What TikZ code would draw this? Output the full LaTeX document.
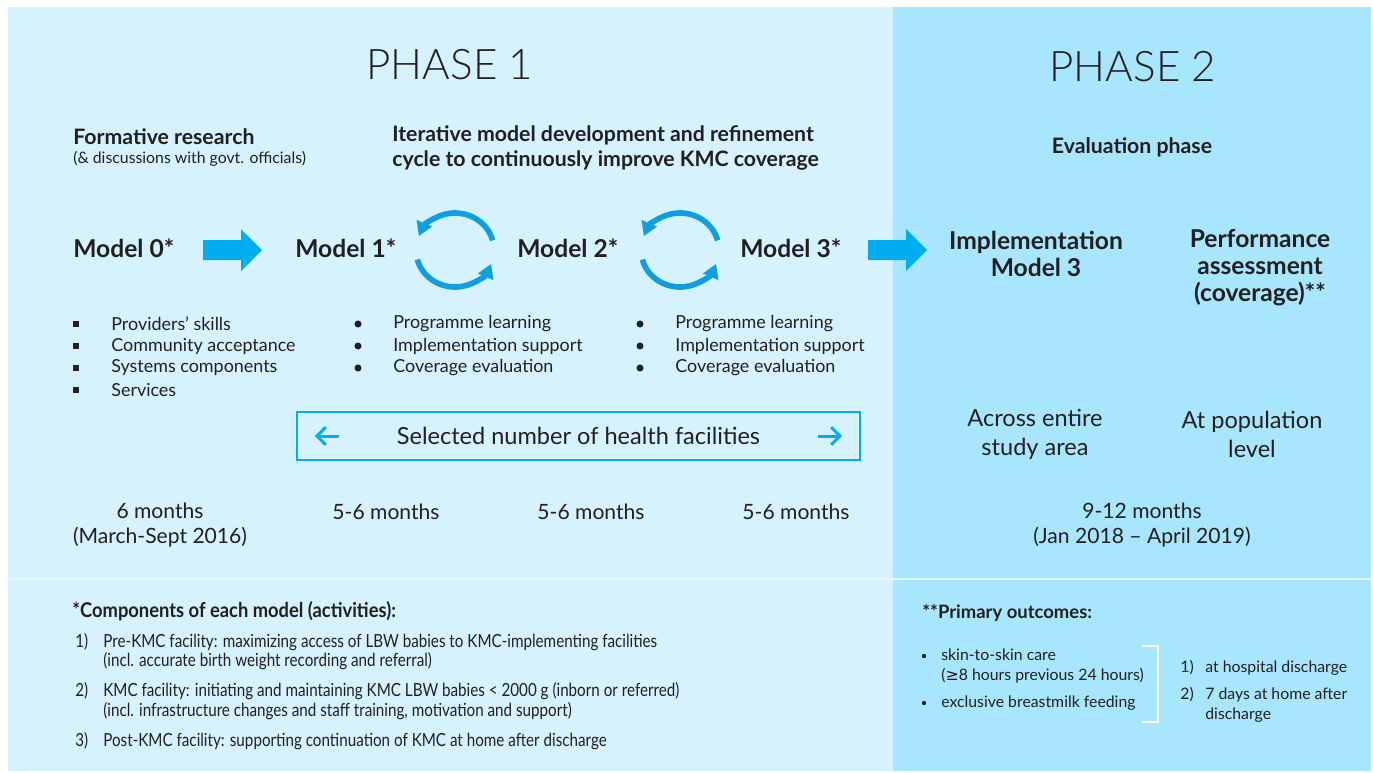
\documentclass[tikz,border=0pt]{standalone}
\usepackage{fontspec}
\setmainfont{Lato}
\newfontfamily\lightfont{Lato Light}
\newfontfamily\condfont{Lato}[FakeStretch=0.84]
\newfontfamily\condbold{Lato Bold}[FakeStretch=0.9]
\newfontfamily\symfont{DejaVu Sans}
\usepackage{tikz}
\usetikzlibrary{calc}
\usetikzlibrary{positioning}
\usetikzlibrary{arrows.meta}
\definecolor{panelA}{RGB}{213,242,254}
\definecolor{panelB}{RGB}{168,230,253}
\definecolor{arrowblue}{RGB}{0,174,239}
\definecolor{cycblue}{RGB}{16,158,222}
\definecolor{ink}{RGB}{35,31,32}
\definecolor{line}{RGB}{232,248,254}

\begin{document}
\begin{tikzpicture}[x=0.02cm,y=-0.02cm,>=latex,
  every node/.style={text=ink,inner sep=0pt},
  phase/.style={font=\lightfont\fontsize{24}{30}\selectfont},
  head/.style={font=\bfseries\fontsize{12.1}{14.7}\selectfont,align=left,anchor=west},
  sub/.style={font=\fontsize{9}{11}\selectfont,anchor=west},
  model/.style={font=\bfseries\fontsize{14}{15.3}\selectfont,align=center},
  item/.style={font=\fontsize{10.2}{12.5}\selectfont,anchor=west},
  big/.style={font=\fontsize{13.4}{16.4}\selectfont,align=center},
  months/.style={font=\fontsize{12}{14.7}\selectfont,align=center},
  blist/.style={font=\condfont\fontsize{10.3}{11.3}\selectfont,align=left,anchor=west},
  olist/.style={font=\fontsize{9}{11.3}\selectfont,align=left,anchor=west},
  sqdot/.style={fill=ink,minimum size=3.6pt,inner sep=0pt},
  rdot/.style={circle,fill=ink,minimum size=4pt,inner sep=0pt},
  cyc/.style={cycblue,line width=3.2pt,-{Triangle[length=8pt,width=9pt]}},
  thin/.style={arrowblue,line width=1.7pt,-{Straight Barb[length=5pt,width=10pt]}}]

\useasboundingbox (0,0) rectangle (1373,772);

% panels
\fill[panelA] (8,7) rectangle (893,771);
\fill[panelB] (893,7) rectangle (1371,771);
\draw[line,line width=1.6pt] (8,579) -- (1371,579);

% titles
\node[phase] (ph1) at (450,65) {PHASE 1};
\node[phase] (ph2) at (1133,67) {PHASE 2};

\node[head] (form) at (73,137) {Formative research};
\node[sub] (disc) at (73,159) {(\& discussions with govt. officials)};
\node[head] (iter) at (392,148) {Iterative model development and refinement\\cycle to continuously improve KMC coverage};
\node[head,anchor=center] (eval) at (1132,147) {Evaluation phase};

% models
\node[model,anchor=west] (m0) at (73,248) {Model 0*};
\node[model,anchor=west] (m1) at (295,248) {Model 1*};
\node[model,anchor=west] (m2) at (517,248) {Model 2*};
\node[model,anchor=west] (m3) at (740,248) {Model 3*};
\node[model] (impl) at (1036,254) {Implementation\\Model 3};
\node[model] (perf) at (1260,268) {Performance\\assessment\\(coverage)**};

% block arrows
\fill[arrowblue] (203,240) -- (241,240) -- (241,229) -- (262,250) -- (241,271) -- (241,260) -- (203,260) -- cycle;
\fill[arrowblue,shift={(665,0)}] (203,240) -- (241,240) -- (241,229) -- (262,250) -- (241,271) -- (241,260) -- (203,260) -- cycle;

% cycles
\coordinate (c1) at (455,250);
\coordinate (c2) at (680,250);
\foreach \c in {c1,c2}{
  \draw[cyc] ($(\c)+(-15:39 and 37)$) arc[start angle=-15,end angle=-158,x radius=39,y radius=37];
  \draw[cyc] ($(\c)+(-195:39 and 37)$) arc[start angle=-195,end angle=-338,x radius=39,y radius=37];
}

% bullet lists
\foreach \t [count=\i] in {Providers’ skills,Community acceptance,Systems components,Services}{
  \node[sqdot] (q\i) at (76,302+22*\i) {};
  \node[item] (p\i) at (111,302+22*\i) {\t};
}
\foreach \t [count=\i] in {Programme learning,Implementation support,Coverage evaluation}{
  \node[rdot] (a\i) at (358,302+22*\i) {};
  \node[item] (b\i) at (393,302+22*\i) {\t};
  \node[rdot] (d\i) at (640,302+22*\i) {};
  \node[item] (e\i) at (675,302+22*\i) {\t};
}

% facilities box
\node[draw=arrowblue,line width=1.2pt,minimum width=563*0.02cm,minimum height=48*0.02cm,
  font=\fontsize{13.4}{15}\selectfont] (fac) at (578.5,436) {Selected number of health facilities};
\draw[thin] ($(fac.west)+(43,0)$) -- ($(fac.west)+(19,0)$);
\draw[thin] ($(fac.east)+(-43,0)$) -- ($(fac.east)+(-19,0)$);

\node[big] (area) at (1035,434) {Across entire\\study area};
\node[big] (pop) at (1252,434) {At population\\level};

% durations
\node[months] (t0) at (160,525) {6 months\\(March-Sept 2016)};
\node[months] (t1) at (386,512) {5-6 months};
\node[months] (t2) at (591,512) {5-6 months};
\node[months] (t3) at (796,512) {5-6 months};
\node[months] (t4) at (1142,525) {9-12 months\\(Jan 2018 – April 2019)};

% components
\node[blist,font=\condbold\fontsize{11.6}{13}\selectfont] (comp) at (72,611) {*Components of each model (activities):};
\node[blist] (n1) at (75,642) {1)};
\node[blist] (k1) at (103,652) {Pre-KMC facility: maximizing access of LBW babies to KMC-implementing facilities\\(incl. accurate birth weight recording and referral)};
\node[blist] (n2) at (75,691) {2)};
\node[blist] (k2) at (103,701) {KMC facility: initiating and maintaining KMC LBW babies < 2000 g (inborn or referred)\\(incl. infrastructure changes and staff training, motivation and support)};
\node[blist] (n3) at (75,741) {3)};
\node[blist] (k3) at (103,741) {Post-KMC facility: supporting continuation of KMC at home after discharge};

% outcomes
\node[olist,font=\bfseries\fontsize{10.5}{12}\selectfont] (prim) at (922,613) {**Primary outcomes:};
\node[rdot,minimum size=2.5pt] (o1) at (924,656) {};
\node[olist] (s1) at (941,666) {skin-to-skin care\\({\symfont ≥}8 hours previous 24 hours)};
\node[rdot,minimum size=2.5pt] (o2) at (924,703) {};
\node[olist] (s2) at (941,703) {exclusive breastmilk feeding};
\draw[white,line width=1.2pt] (1142,646) -- (1158,646) -- (1158,722) -- (1142,722);
\node[olist] (r1) at (1180,668) {1)};
\node[olist] (u1) at (1205,668) {at hospital discharge};
\node[olist] (r2) at (1180,695) {2)};
\node[olist] (u2) at (1205,705) {7 days at home after\\discharge};
\end{tikzpicture}
\end{document}
